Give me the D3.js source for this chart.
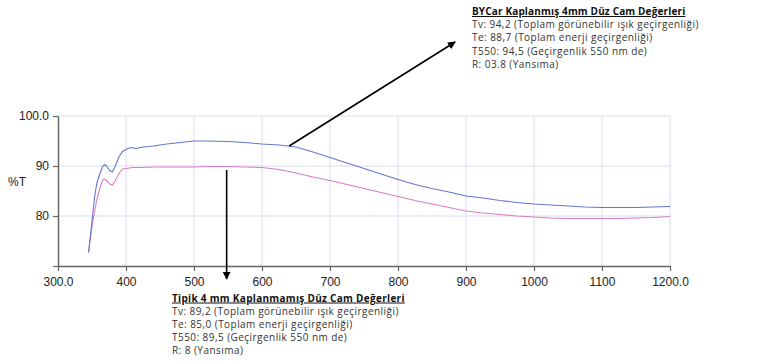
<!DOCTYPE html>
<html><head><meta charset="utf-8">
<script src="https://cdn.jsdelivr.net/npm/d3@7"></script>
<style>
html,body{margin:0;padding:0;background:#fff;}
svg{display:block;}
</style></head>
<body>
<svg id="c" width="765" height="364"></svg>
<script>
// ---- data ----
const wavelengths = [345,350,354,357,362,366,369,372,376,380,384,390,395,400,405,410,415,420,440,460,480,500,520,550,575,600,625,650,675,700,725,750,775,800,825,850,875,900,925,950,975,1000,1025,1050,1075,1100,1125,1150,1175,1200];
const coatedT = [72.7,79.0,83.9,86.5,88.6,90.0,90.3,89.9,89.1,88.8,89.9,91.9,92.9,93.3,93.6,93.7,93.4,93.7,94.0,94.4,94.7,95.0,95.0,94.9,94.7,94.4,94.2,93.8,92.8,91.7,90.6,89.5,88.4,87.3,86.3,85.5,84.8,84.0,83.6,83.1,82.7,82.4,82.2,82.0,81.8,81.7,81.7,81.7,81.8,81.9];
const uncoatedT = [72.7,78.0,81.0,83.2,85.8,87.3,87.4,87.0,86.4,86.2,87.0,88.6,89.4,89.5,89.6,89.7,89.7,89.7,89.8,89.8,89.8,89.8,89.9,89.9,89.8,89.7,89.3,88.6,87.8,87.1,86.3,85.5,84.7,83.9,83.1,82.4,81.7,81.0,80.6,80.3,80.0,79.8,79.6,79.5,79.5,79.5,79.5,79.6,79.7,79.9];
const xTicks = [300,400,500,600,700,800,900,1000,1100,1200];
const xTickLabels = ["300.0","400","500","600","700","800","900","1000","1100","1200.0"];
const yTicks = [80,90,100];
const yTickLabels = ["80","90","100.0"];
const yAxisLabel = "%T";
const coatedText = ["BYCar Kaplanmış 4mm Düz Cam Değerleri","Tv: 94,2 (Toplam görünebilir ışık geçirgenliği)","Te: 88,7 (Toplam enerji geçirgenliği)","T550: 94,5 (Geçirgenlik 550 nm de)","R: 03.8 (Yansıma)"];
const uncoatedText = ["Tipik 4 mm Kaplanmamış Düz Cam Değerleri","Tv: 89,2 (Toplam görünebilir ışık geçirgenliği)","Te: 85,0 (Toplam enerji geçirgenliği)","T550: 89,5 (Geçirgenlik 550 nm de)","R: 8 (Yansıma)"];
// annotation anchors in data units
const coatedArrow = {from:[640,94.0], to:[884,114.8]};
const uncoatedArrow = {from:[548,89.2], to:[548,67.4]};

// ---- chart ----
const svg = d3.select("#c");
const x = d3.scaleLinear().domain([300,1200]).range([58,670]);
const y = d3.scaleLinear().domain([70,100]).range([266,116]);
const gridColor = "#dcdcf0";

// gridlines
svg.append("g").selectAll("line").data(xTicks.slice(1)).join("line")
  .attr("x1",d=>x(d)).attr("x2",d=>x(d)).attr("y1",y(70)).attr("y2",y(100))
  .attr("stroke",gridColor).attr("stroke-width",1);
svg.append("g").selectAll("line").data(yTicks).join("line")
  .attr("x1",x(300)).attr("x2",x(1200)).attr("y1",d=>y(d)).attr("y2",d=>y(d))
  .attr("stroke",gridColor).attr("stroke-width",1);

// axes
const xAxis = d3.axisBottom(x).tickValues(xTicks).tickFormat((d,i)=>xTickLabels[i]).tickSize(5).tickSizeOuter(0);
const gx = svg.append("g").attr("transform",`translate(0,${y(70)})`).call(xAxis);
const yAxis = d3.axisLeft(y).tickValues([70].concat(yTicks)).tickFormat(d=>{const i=yTicks.indexOf(d);return i<0?"":yTickLabels[i];}).tickSize(5).tickSizeOuter(0);
const gy = svg.append("g").attr("transform",`translate(${x(300)},0)`).call(yAxis);
[gx,gy].forEach(g=>{
  g.select(".domain").attr("stroke","#666").attr("stroke-width",1.5);
  g.selectAll(".tick line").attr("stroke","#666").attr("stroke-width",1.2);
  g.selectAll(".tick text").attr("fill","#222").style("font-family","Liberation Sans, Arial, sans-serif").style("font-size","12px");
});
gx.selectAll(".tick text").attr("dy","0.71em").attr("y",11);
gy.selectAll(".tick text").attr("x",-9);

svg.append("text").attr("x",8).attr("y",186).text(yAxisLabel)
  .attr("fill","#222").style("font-family","Liberation Sans, Arial, sans-serif").style("font-size","12px");

// lines
const line = vals => d3.line().x((d,i)=>x(wavelengths[i])).y(d=>y(d))(vals);
svg.append("path").attr("d",line(uncoatedT)).attr("fill","none").attr("stroke","#d77cc8").attr("stroke-width",1.1);
svg.append("path").attr("d",line(coatedT)).attr("fill","none").attr("stroke","#6178cc").attr("stroke-width",1.1);

// arrows
const defs = svg.append("defs");
defs.append("marker").attr("id","ah").attr("viewBox","0 0 10 10").attr("refX",9).attr("refY",5)
  .attr("markerWidth",5).attr("markerHeight",5).attr("orient","auto")
  .append("path").attr("d","M0,0 L10,5 L0,10 z").attr("fill","#000");
[coatedArrow,uncoatedArrow].forEach(a=>{
  svg.append("line").attr("x1",x(a.from[0])).attr("y1",y(a.from[1]))
    .attr("x2",x(a.to[0])).attr("y2",y(a.to[1]))
    .attr("stroke","#000").attr("stroke-width",1.6).attr("marker-end","url(#ah)");
});

// text blocks
function block(lines, x0, y0, titleSpacing){
  const g = svg.append("g");
  lines.forEach((t,i)=>{
    g.append("text").attr("x",x0).attr("y",y0+i*13.2).text(t)
      .attr("fill", i===0?"#111":"#333")
      .style("font-family","Open Sans, sans-serif")
      .style("font-size","10px")
      .style("font-weight", i===0?"bold":"normal")
      .style("letter-spacing", i===0?titleSpacing:"0.45px")
      .style("text-decoration", i===0?"underline":"none");
  });
}
block(coatedText, 472, 15, "0.15px");
block(uncoatedText, 172, 301.5, "0.3px");
</script>
</body></html>
